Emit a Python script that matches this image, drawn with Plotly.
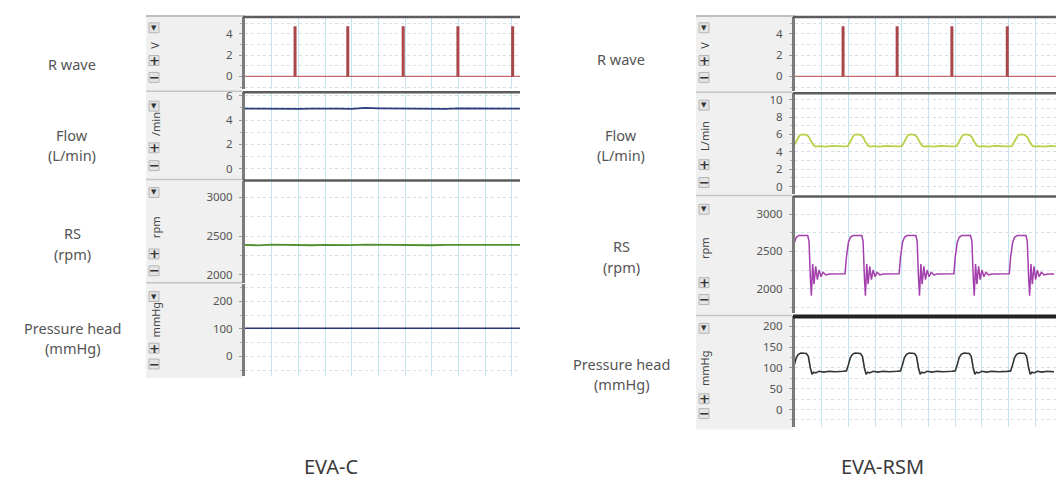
import plotly.graph_objects as go

W, H = 1056, 486

# ---------------- data ----------------
row_titles = [["R wave"], ["Flow", "(L/min)"], ["RS", "(rpm)"], ["Pressure head", "(mmHg)"]]
units_c = ["V", "/min", "rpm", "mmHg"]
units_rsm = ["V", "L/min", "rpm", "mmHg"]
group_titles = ["EVA-C", "EVA-RSM"]

# R-wave trigger times (s) and amplitude (V)
r_times_c = [0.75, 1.54, 2.37, 3.19, 4.01]
r_times_rsm = [0.72, 1.53, 2.35, 3.18]
r_prev_rsm = -0.09          # trigger just before the visible window
r_peak = 4.7

# EVA-C: constant-speed traces
t_c = [0.0, 0.2, 0.4, 0.6, 0.8, 1.0, 1.2, 1.4, 1.6, 1.8, 2.0,
       2.2, 2.4, 2.6, 2.8, 3.0, 3.2, 3.4, 3.6, 3.8, 4.0, 4.12]
flow_c = [4.95, 4.93, 4.96, 4.94, 4.92, 4.95, 4.97, 4.95, 4.93, 5.0, 4.97,
          4.95, 4.96, 4.94, 4.95, 4.93, 4.97, 4.95, 4.96, 4.94, 4.95, 4.95]
rs_c = [2385, 2380, 2388, 2383, 2386, 2381, 2387, 2384, 2382, 2388, 2385,
        2383, 2386, 2384, 2381, 2387, 2385, 2383, 2386, 2384, 2385, 2385]
ph_c = [102, 102, 103, 102, 102, 102, 102, 103, 102, 102, 102,
        103, 102, 102, 102, 103, 102, 102, 102, 102, 102, 102]

# EVA-RSM: one beat of each trace, time measured from the R-wave trigger (s)
flow_beat_t = [0.00, 0.07, 0.10, 0.13, 0.16, 0.20, 0.26, 0.30, 0.33, 0.37, 0.40, 0.46, 0.55, 0.65, 0.74]
flow_beat_v = [4.62, 4.65, 5.1, 5.6, 5.9, 6.0, 5.95, 5.7, 5.2, 4.75, 4.6, 4.66, 4.6, 4.68, 4.62]

rs_beat_t = [0.00, 0.03, 0.05, 0.08, 0.11, 0.15, 0.28, 0.30, 0.32, 0.335, 0.355, 0.375,
             0.40, 0.425, 0.45, 0.48, 0.51, 0.55, 0.60, 0.70]
rs_beat_v = [2197, 2200, 2420, 2620, 2690, 2715, 2715, 2640, 2150, 1905, 2330, 2060,
             2300, 2120, 2250, 2160, 2220, 2185, 2197, 2197]

ph_beat_t = [0.00, 0.05, 0.08, 0.11, 0.14, 0.18, 0.26, 0.29, 0.32, 0.345, 0.37, 0.40, 0.45, 0.52, 0.60, 0.70]
ph_beat_v = [92, 93, 108, 125, 133, 136, 135, 128, 100, 85, 90, 88, 92, 90, 92, 91]

# ---------------- layout geometry (pixels) ----------------
def PX(x): return x / W
def PY(y): return 1 - y / H

sides = {
    "C": dict(x0=245, x1=520, xr=[0, 4.12], gx0=146, glabel=72),
    "R": dict(x0=795, x1=1056, xr=[0, 3.91], gx0=696, glabel=621),
}
panels = [
    dict(side="C", row=0, top=13, bot=86, yr=[-1.21, 5.58], dt=2, mn=1),
    dict(side="C", row=1, top=89, bot=177, yr=[-0.89, 6.29], dt=2, mn=1),
    dict(side="C", row=2, top=178, bot=281, yr=[1897, 3218], dt=500, mn=250),
    dict(side="C", row=3, top=282, bot=375, yr=[-71, 264], dt=100, mn=50),
    dict(side="R", row=0, top=13, bot=88, yr=[-1.4, 5.58], dt=2, mn=1),
    dict(side="R", row=1, top=90, bot=192, yr=[-0.9, 10.73], dt=2, mn=1),
    dict(side="R", row=2, top=194, bot=312, yr=[1667, 3240], dt=500, mn=250),
    dict(side="R", row=3, top=315, bot=427, yr=[-43, 224], dt=50, mn=25),
]

# button / unit-label vertical positions (pixels) per panel: (down, unit, plus, minus)
ctrl = [
    (24, 42, 57, 74), (103, 121, 145, 163), (190, 225, 252, 269), (295, 318, 347, 363),
    (24, 42, 57, 74), (102, 133, 162, 180), (207, 246, 281, 298), (327, 367, 398, 413),
]
label_y = [[60], [132, 152], [231, 252], [327, 347],
           [55], [132, 152], [244, 265], [363, 383]]

fig = go.Figure()

def ax(i):
    return ("x" if i == 0 else f"x{i+1}"), ("y" if i == 0 else f"y{i+1}")

def add(i, x, y, color, width, **kw):
    xa, ya = ax(i)
    fig.add_trace(go.Scatter(x=x, y=y, mode="lines", xaxis=xa, yaxis=ya,
                             line=dict(color=color, width=width), hoverinfo="skip",
                             showlegend=False, **kw))

def beats(triggers, bt, bv):
    xs, ys = [], []
    for r in triggers:
        for t, v in zip(bt, bv):
            xs.append(r + t)
            ys.append(v)
    return xs, ys

def rwave(i, times, xend):
    add(i, [-1, xend + 1], [0, 0], "#c46a6a", 1.2)
    xs, ys = [], []
    for t in times:
        xs += [t, t, None]
        ys += [0, r_peak, None]
    add(i, xs, ys, "#a9474a", 3)

# EVA-C
rwave(0, r_times_c, 4.12)
add(1, t_c, flow_c, "#2d3c7e", 1.8)
add(2, t_c, rs_c, "#4f8f32", 1.8)
add(3, t_c, ph_c, "#28356f", 1.6)
# EVA-RSM
rwave(4, r_times_rsm, 3.91)
trig = [r_prev_rsm] + r_times_rsm
fx, fy = beats(trig, flow_beat_t, flow_beat_v)
add(5, fx, fy, "#b9d148", 1.8)
sx, sy = beats(trig, rs_beat_t, rs_beat_v)
add(6, sx, sy, "#a43fae", 1.5)
px_, py_ = beats(trig, ph_beat_t, ph_beat_v)
add(7, px_, py_, "#333333", 1.6)

shapes, annos = [], []
tickfont = dict(family="Noto Sans", size=11.5, color="#555555")
layout = {}
for i, p in enumerate(panels):
    s = sides[p["side"]]
    xa, ya = ax(i)
    xk = "xaxis" if i == 0 else f"xaxis{i+1}"
    yk = "yaxis" if i == 0 else f"yaxis{i+1}"
    layout[xk] = dict(domain=[PX(s["x0"]), PX(s["x1"])], range=s["xr"], anchor=ya,
                      showticklabels=False, ticks="", showline=False, zeroline=False,
                      showgrid=True, gridcolor="#c4e5ee", gridwidth=1, dtick=0.4, tick0=0,
                      fixedrange=True)
    layout[yk] = dict(domain=[PY(p["bot"]), PY(p["top"])], range=p["yr"], anchor=xa,
                      dtick=p["dt"], tick0=0, ticks="outside", ticklen=3, tickcolor="#9a9a9a",
                      tickfont=tickfont, ticklabelstandoff=4,
                      showline=True, linecolor="#7b7b7b", linewidth=3, zeroline=False,
                      showgrid=True, gridcolor="#cfdfe6", griddash="dot",
                      minor=dict(dtick=p["mn"], ticks="outside", ticklen=2, tickcolor="#b0b0b0",
                                 showgrid=True, gridcolor="#d3e2e8", griddash="dot"),
                      fixedrange=True)
    # top border
    if not (p["side"] == "C" and p["row"] == 3):
        thick = p["side"] == "R" and p["row"] == 3
        shapes.append(dict(type="line", xref="paper", yref="paper",
                           x0=PX(s["x0"] - 2), x1=PX(s["x1"]), y0=PY(p["top"]), y1=PY(p["top"]),
                           line=dict(color="#222222" if thick else "#5c5c5c", width=4 if thick else 2.5),
                           layer="above"))
    # separator inside the grey control strip
    shapes.append(dict(type="line", xref="paper", yref="paper",
                       x0=PX(s["gx0"]), x1=PX(s["x0"] - 3), y0=PY(p["top"] - 1), y1=PY(p["top"] - 1),
                       line=dict(color="#c4c4c4", width=1.5), layer="below"))
    # buttons and unit label
    d, u, pl, mi = ctrl[i]
    bx = s["gx0"] + 8
    for yy, glyph, fs in [(d, "▼", 7), (pl, "+", 13), (mi, "−", 13)]:
        shapes.append(dict(type="rect", xref="paper", yref="paper",
                           x0=PX(bx - 5), x1=PX(bx + 5), y0=PY(yy + 5), y1=PY(yy - 5),
                           fillcolor="#e4e4e4", line=dict(color="#b5b5b5", width=1), layer="below"))
        annos.append(dict(x=PX(bx), y=PY(yy), xref="paper", yref="paper", text=f"<b>{glyph}</b>",
                          showarrow=False, xanchor="center", yanchor="middle",
                          font=dict(family="DejaVu Sans", size=fs, color="#333333")))
    unit = (units_c if p["side"] == "C" else units_rsm)[p["row"]]
    annos.append(dict(x=PX(bx + 1), y=PY(u), xref="paper", yref="paper", text=unit, textangle=-90,
                      showarrow=False, xanchor="center", yanchor="middle",
                      font=dict(family="Noto Sans", size=11, color="#444444")))
    # row title
    lines = row_titles[p["row"]]
    for k, txt in enumerate(lines):
        annos.append(dict(x=PX(s["glabel"]), y=PY(label_y[i][k]), xref="paper", yref="paper",
                          text=txt, showarrow=False, xanchor="center", yanchor="middle",
                          font=dict(family="Noto Sans", size=14.5, color="#555555")))

# grey control strips
for key, bot in [("C", 377), ("R", 429)]:
    s = sides[key]
    shapes.insert(0, dict(type="rect", xref="paper", yref="paper",
                          x0=PX(s["gx0"]), x1=PX(s["x0"] - 2), y0=PY(bot), y1=PY(12),
                          fillcolor="#f0f0f0", line=dict(width=0), layer="below"))
    shapes.append(dict(type="line", xref="paper", yref="paper",
                       x0=PX(s["gx0"]), x1=PX(s["x0"]), y0=PY(12), y1=PY(12),
                       line=dict(color="#b8b8b8", width=1.5), layer="below"))

for txt, xc in zip(group_titles, [331, 882]):
    annos.append(dict(x=PX(xc), y=PY(466), xref="paper", yref="paper", text=txt, showarrow=False,
                      xanchor="center", yanchor="middle",
                      font=dict(family="Noto Sans", size=20, color="#3a3a3a")))

fig.update_layout(width=W, height=H, autosize=False, margin=dict(l=0, r=0, t=0, b=0),
                  paper_bgcolor="white", plot_bgcolor="white", shapes=shapes, annotations=annos,
                  showlegend=False, **layout)
fig.write_html("out.html", config={"displayModeBar": False})
